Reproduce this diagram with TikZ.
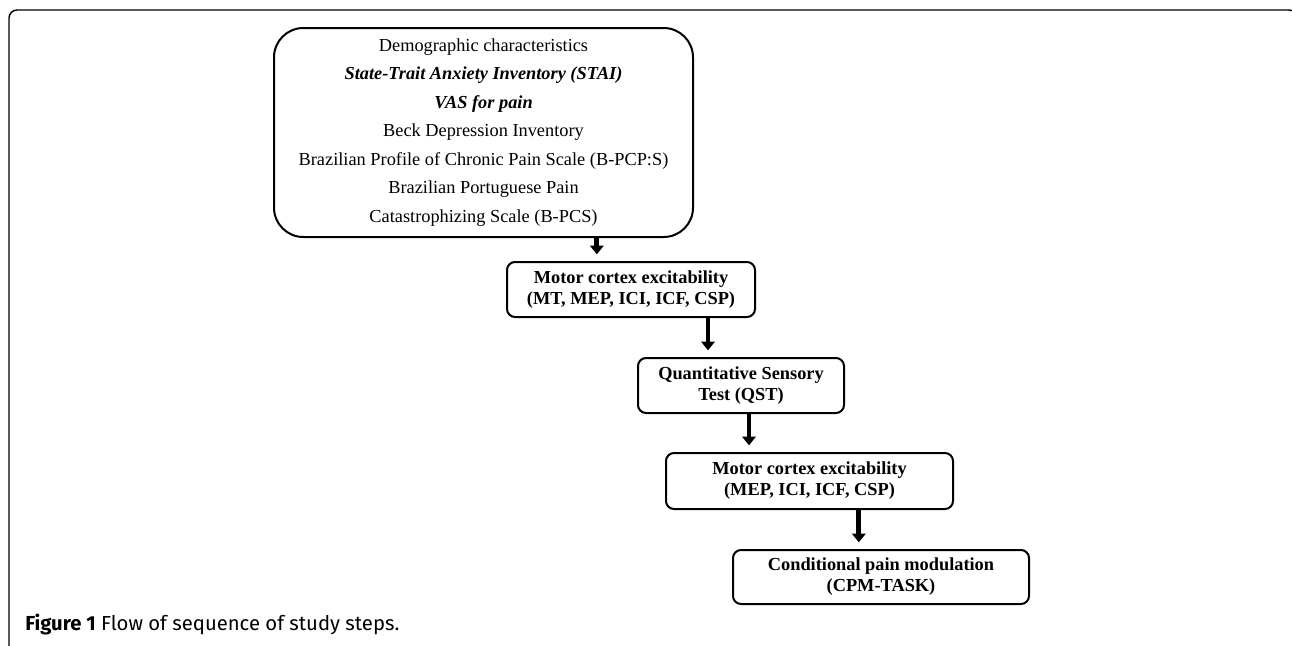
\documentclass[tikz,border=0pt]{standalone}
\usepackage{fontspec}
\setmainfont{Liberation Serif}
\newfontfamily\capfont{Fira Sans}
\usetikzlibrary{arrows.meta,positioning,calc}

\tikzset{
  stepbox/.style={draw, line width=1.5pt, rounded corners=6pt, align=center,
    font=\fontsize{13.75}{15.75}\selectfont\bfseries, inner sep=0pt},
  flow/.style={-{Triangle[width=10pt,length=6.5pt]}, line width=3.6pt, shorten >=5pt}
}

\begin{document}
\begin{tikzpicture}[x=0.75pt, y=-0.75pt]
\clip (0,0) rectangle (1292,646);
% outer frame, open at the bottom
\draw[line width=1.1pt, rounded corners=6pt] (9,660) -- (9,10) -- (1297,10) -- (1297,660);

\node[draw, line width=1.5pt, rounded corners=22pt, align=center, inner sep=0pt,
      minimum width=314.25pt, minimum height=156.75pt,
      font=\fontsize{13.75}{21.4}\selectfont] (intake) at (483.5,132.5)
  {Demographic characteristics\\
   \textbf{\textit{State-Trait Anxiety Inventory (STAI)}}\\
   \textbf{\textit{VAS for pain}}\\
   Beck Depression Inventory\\
   Brazilian Profile of Chronic Pain Scale (B-PCP:S)\\
   Brazilian Portuguese Pain\\
   Catastrophizing Scale (B-PCS)};
\node[stepbox, minimum width=186pt, minimum height=41.25pt] (mce1) at (631,289.5)
  {Motor cortex excitability\\(MT, MEP, ICI, ICF, CSP)};
\node[stepbox, minimum width=154.5pt, minimum height=41.25pt] (qst) at (741,385.5)
  {Quantitative Sensory\\Test (QST)};
\node[stepbox, minimum width=215.25pt, minimum height=42pt] (mce2) at (809.5,481)
  {Motor cortex excitability\\(MEP, ICI, ICF, CSP)};
\node[stepbox, minimum width=222pt, minimum height=40.5pt] (cpm) at (881,577)
  {Conditional pain modulation\\(CPM-TASK)};

\draw[flow] ([xshift=85pt]intake.south) -- ([xshift=85pt]intake.south |- mce1.north);
\draw[flow] ([xshift=57.75pt]mce1.south) -- ([xshift=57.75pt]mce1.south |- qst.north);
\draw[flow] ([xshift=6pt]qst.south) -- ([xshift=6pt]qst.south |- mce2.north);
\draw[flow] ([xshift=37pt]mce2.south) -- ([xshift=37pt]mce2.south |- cpm.north);

\node[anchor=base west, inner sep=0pt, font=\capfont\fontsize{15.2}{17}\selectfont] (caption) at (25,630)
  {\textbf{Figure 1} Flow of sequence of study steps.};
\end{tikzpicture}
\end{document}
